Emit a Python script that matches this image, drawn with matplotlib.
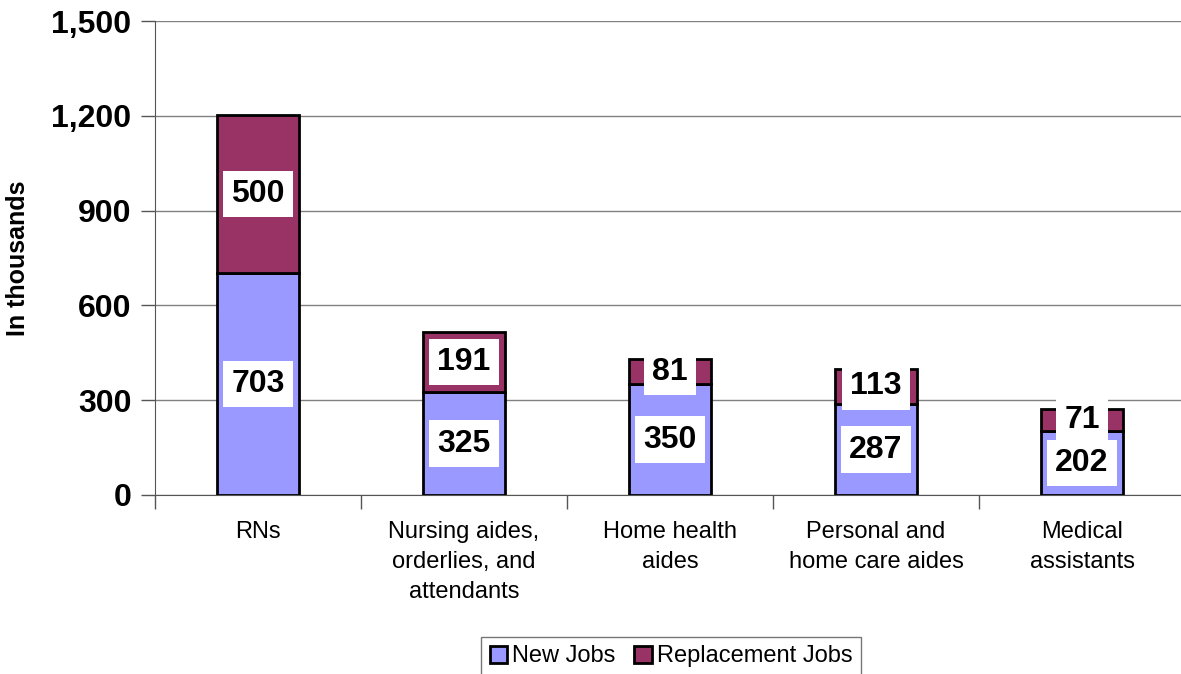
import matplotlib.pyplot as plt
import numpy as np

plt.rcParams['font.family'] = ['Liberation Sans', 'DejaVu Sans']

categories = ['RNs', 'Nursing aides,\norderlies, and\nattendants', 'Home health\naides',
              'Personal and\nhome care aides', 'Medical\nassistants']
new_jobs = [703, 325, 350, 287, 202]
replacement_jobs = [500, 191, 81, 113, 71]

fig = plt.figure(figsize=(11.81, 6.74), dpi=100)
ax = fig.add_axes([155 / 1181, 1 - 495 / 674, 1030 / 1181, 474 / 674])

x = np.arange(len(categories))
w = 0.40
b1 = ax.bar(x, new_jobs, w, color='#9999FF', edgecolor='black', linewidth=2, zorder=3, label='New Jobs')
b2 = ax.bar(x, replacement_jobs, w, bottom=new_jobs, color='#993366', edgecolor='black',
            linewidth=2, zorder=3, label='Replacement Jobs')

box = dict(boxstyle='square,pad=0.26', facecolor='white', edgecolor='none')
for i in range(len(categories)):
    ax.text(x[i], new_jobs[i] / 2, str(new_jobs[i]), ha='center', va='center', fontsize=23,
            fontweight='bold', bbox=box, zorder=4)
    ax.text(x[i], new_jobs[i] + replacement_jobs[i] / 2, str(replacement_jobs[i]), ha='center',
            va='center', fontsize=23, fontweight='bold', bbox=box, zorder=4)

ax.set_xlim(-0.5, 4.5)
ax.set_ylim(0, 1500)
ax.set_yticks(np.arange(0, 1501, 300))
ax.set_yticklabels(['{:,}'.format(v) for v in range(0, 1501, 300)], fontsize=23, fontweight='bold')
ax.yaxis.grid(True, color='#808080', linewidth=1, zorder=0)
ax.set_ylabel('In thousands', fontsize=18, fontweight='bold')
ax.yaxis.set_label_coords(-0.121, 0.5)
ax.tick_params(axis='y', length=10, width=1, color='#555555', pad=7)

ax.set_xticks(x)
ax.set_xticklabels(categories, fontsize=17, linespacing=1.45)
ax.set_xticks(np.arange(-0.5, 5, 1), minor=True)
ax.tick_params(axis='x', which='major', length=0, pad=19)
ax.tick_params(axis='x', which='minor', length=10, width=1, color='#555555')

for s in ['top', 'right']:
    ax.spines[s].set_visible(False)
ax.spines['left'].set_color('#555555')
ax.spines['bottom'].set_color('#555555')

fig.legend(handles=[b1, b2], loc='lower center', bbox_to_anchor=(671 / 1181, -0.02), ncol=2,
           fontsize=17, frameon=True, fancybox=False, edgecolor='#555555', handlelength=0.75,
           handleheight=0.75, handletextpad=0.2, columnspacing=0.8, borderpad=0.35, borderaxespad=0.5)

fig.savefig('out.png', dpi=100)
